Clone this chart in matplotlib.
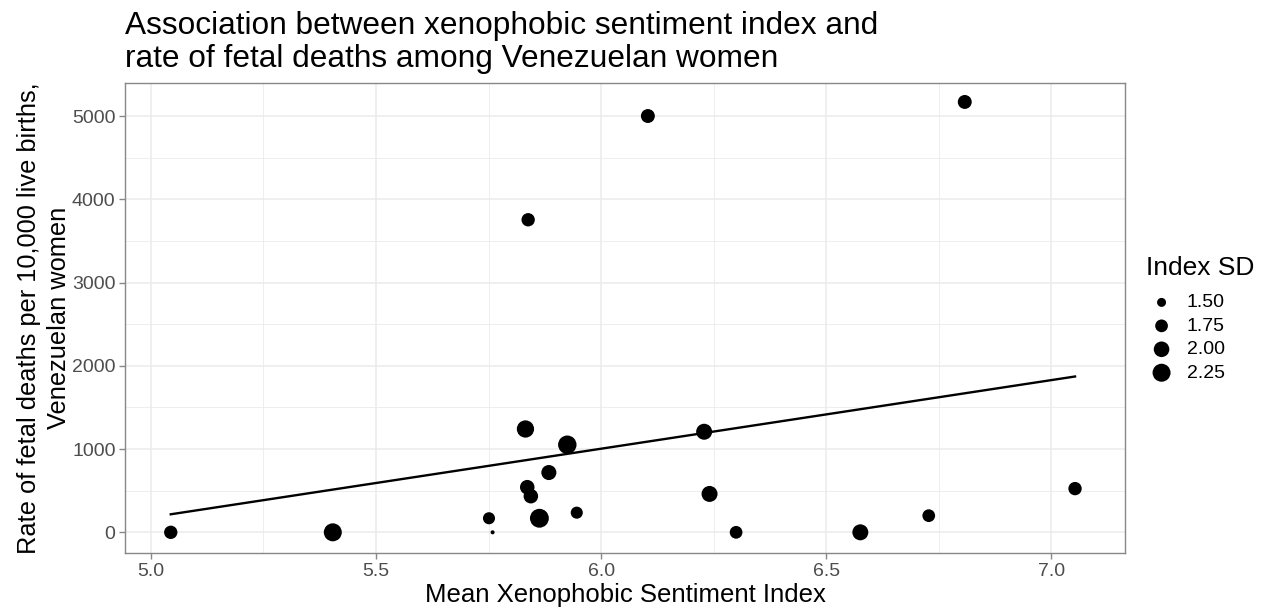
import numpy as np
import matplotlib
matplotlib.use("Agg")
import matplotlib.pyplot as plt
from matplotlib.ticker import MultipleLocator

plt.rcParams['font.family'] = ['Liberation Sans', 'DejaVu Sans']

# Data
index_mean = [5.044, 5.404, 5.759, 5.751, 5.832, 5.925, 5.884, 5.836, 5.844,
              5.863, 5.946, 6.229, 6.241, 6.300, 6.576, 6.728, 7.053,
              6.104, 6.808, 5.838]
fetal_rate = [0, 0, 0, 169, 1241, 1052, 718, 542, 434,
              169, 236, 1208, 461, 0, 0, 200, 525,
              5000, 5169, 3754]
index_sd = [1.80, 2.25, 1.30, 1.70, 2.17, 2.30, 1.95, 1.90, 1.90,
            2.35, 1.70, 2.04, 2.04, 1.75, 2.04, 1.75, 1.80,
            1.85, 1.85, 1.80]
legend_breaks = [1.50, 1.75, 2.00, 2.25]

W, H = 1265, 609
fig = plt.figure(figsize=(W / 100, H / 100), dpi=100)
ax = fig.add_axes([125.3 / W, 1 - 553.3 / H, (1125 - 125.3) / W, (553.3 - 83.3) / H])


def size_of(v):
    area_px = 81 + 324 * (np.asarray(v) - 1.5)
    return 0.5184 * area_px


x = np.array(index_mean)
y = np.array(fetal_rate)

grid_c = '#EBEBEB'
ax.set_axisbelow(True)
ax.xaxis.set_major_locator(MultipleLocator(0.5))
ax.xaxis.set_minor_locator(MultipleLocator(0.25))
ax.yaxis.set_major_locator(MultipleLocator(1000))
ax.yaxis.set_minor_locator(MultipleLocator(500))
ax.grid(which='major', color=grid_c, linewidth=1.1)
ax.grid(which='minor', color=grid_c, linewidth=0.6)
ax.tick_params(which='minor', length=0)

ax.scatter(x, y, s=size_of(index_sd), color='black', edgecolor='none', zorder=3)

coef = np.polyfit(x, y, 1)
xs = np.array([x.min(), x.max()])
ax.plot(xs, np.polyval(coef, xs), color='black', linewidth=1.7, zorder=4)

ax.set_xlim(4.943, 7.164)
ax.set_ylim(-252, 5393)
ax.set_xticks([5.0, 5.5, 6.0, 6.5, 7.0])
ax.set_xticklabels(['5.0', '5.5', '6.0', '6.5', '7.0'])
ax.set_yticks([0, 1000, 2000, 3000, 4000, 5000])
ax.set_yticklabels(['0', '1000', '2000', '3000', '4000', '5000'])

for sp in ax.spines.values():
    sp.set_color('#888888')
    sp.set_linewidth(1.0)
ax.tick_params(which='major', colors='#888888', length=4, width=1.0,
               labelsize=14, labelcolor='#4D4D4D', pad=3)

ax.set_xlabel('Mean Xenophobic Sentiment Index', fontsize=18.5, color='black', labelpad=2)
ax.set_ylabel('Rate of fetal deaths per 10,000 live births,\nVenezuelan women',
              fontsize=18.3, color='black', labelpad=1, linespacing=1.3)

fig.text(125.3 / W, 1 - 11 / H,
         'Association between xenophobic sentiment index and\nrate of fetal deaths among Venezuelan women',
         fontsize=22.8, ha='left', va='top', linespacing=1.15)

handles = [ax.scatter([], [], s=size_of(b), color='black', edgecolor='none') for b in legend_breaks]
leg = fig.legend(handles, [f'{b:.2f}' for b in legend_breaks], title='Index SD',
                 loc='upper left', bbox_to_anchor=(1146 / W, 1 - 256 / H),
                 frameon=False, fontsize=14, title_fontsize=19,
                 handletextpad=0.5, labelspacing=0.3, borderaxespad=0, borderpad=0,
                 handlelength=1.6)
leg._legend_box.align = 'left'
leg._legend_box.sep = 10

fig.savefig('out.png', dpi=100)
